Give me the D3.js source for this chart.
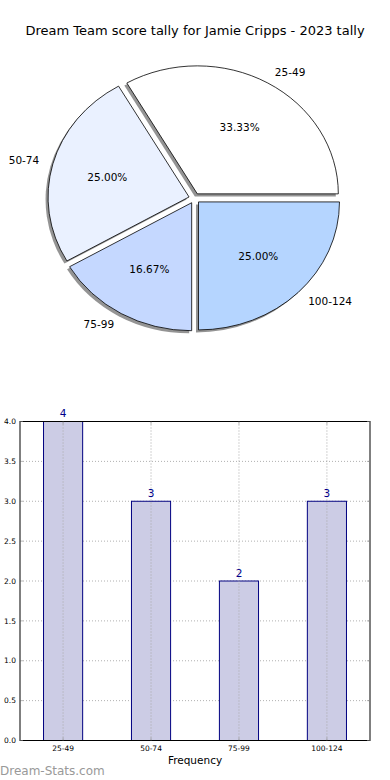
<!DOCTYPE html>
<html><head><meta charset="utf-8">
<script src="https://cdn.jsdelivr.net/npm/d3@7"></script>
<style>body{margin:0;background:#fff}svg{display:block}text{font-family:"DejaVu Sans",sans-serif}</style>
</head><body>
<script>
const title = "Dream Team score tally for Jamie Cripps - 2023 tally";
const categories = ["25-49", "50-74", "75-99", "100-124"];
const counts = [4, 3, 2, 3];
const pieColors = ["#ffffff", "#eaf1ff", "#c5d8ff", "#b5d5ff"];
const yTicks = [0, 0.5, 1, 1.5, 2, 2.5, 3, 3.5, 4];
const xLabel = "Frequency";
const watermark = "Dream-Stats.com";

const W = 390, H = 780;
const svg = d3.select("body").append("svg").attr("width", W).attr("height", H);

svg.append("text").attr("x", 195).attr("y", 35).attr("text-anchor", "middle")
  .attr("font-size", 13).attr("fill", "#000").text(title);

// ---- Pie ----
const cx = 194.5, cy = 198.3, rx = 141, ry = 128, explode = 0.04;
const total = d3.sum(counts);
const pie = d3.pie().sort(null).startAngle(Math.PI / 2).endAngle(Math.PI / 2 - 2 * Math.PI);
const arcs = pie(counts);
const arcGen = d3.arc().innerRadius(0).outerRadius(1);
const pg = svg.append("g");

function off(d, f) {
  const m = (d.startAngle + d.endAngle) / 2;
  return [cx + f * rx * Math.sin(m), cy - f * ry * Math.cos(m)];
}
// shadows
pg.selectAll("path.sh").data(arcs).join("path").attr("class", "sh")
  .attr("d", arcGen)
  .attr("transform", d => { const [x, y] = off(d, explode); return `translate(${x - 2.5},${y + 2.6}) scale(${rx},${ry})`; })
  .attr("fill", "#4d4d4d").attr("opacity", 0.6);
pg.selectAll("path.sl").data(arcs).join("path").attr("class", "sl")
  .attr("d", arcGen)
  .attr("transform", d => { const [x, y] = off(d, explode); return `translate(${x},${y}) scale(${rx},${ry})`; })
  .attr("fill", (d, i) => pieColors[i]).attr("stroke", "#000").attr("stroke-width", 0.8)
  .attr("vector-effect", "non-scaling-stroke");
// labels
arcs.forEach((d, i) => {
  const m = (d.startAngle + d.endAngle) / 2;
  const [ox, oy] = off(d, explode);
  const lx = ox + 1.1 * rx * Math.sin(m), ly = oy - 1.1 * ry * Math.cos(m);
  pg.append("text").attr("x", lx).attr("y", ly).attr("dy", "0.35em")
    .attr("text-anchor", Math.sin(m) > 0 ? "start" : "end")
    .attr("font-size", 10.5).attr("fill", "#000").text(categories[i]);
  const px = ox + 0.6 * rx * Math.sin(m), py = oy - 0.6 * ry * Math.cos(m);
  pg.append("text").attr("x", px).attr("y", py).attr("dy", "0.35em")
    .attr("text-anchor", "middle").attr("font-size", 10.5).attr("fill", "#000")
    .text((counts[i] / total * 100).toFixed(2) + "%");
});

// ---- Bar chart ----
const L = 20, R = 370, T = 421.5, B = 740.5;
const x = d3.scaleLinear().domain([-0.49, 3.49]).range([L, R]);
const y = d3.scaleLinear().domain([0, 4]).range([B, T]);
const bw = 0.445;
const bg = svg.append("g");

const grid = bg.append("g").attr("stroke", "#b0b0b0").attr("stroke-width", 1).attr("stroke-dasharray", "1,2");
grid.selectAll("line.h").data(yTicks).join("line")
  .attr("x1", L).attr("x2", R).attr("y1", d => y(d)).attr("y2", d => y(d));

bg.selectAll("rect").data(counts).join("rect")
  .attr("x", (d, i) => x(i - bw / 2)).attr("width", (d, i) => x(i + bw / 2) - x(i - bw / 2))
  .attr("y", d => y(d)).attr("height", d => B - y(d))
  .attr("fill", "#ccccE5").attr("stroke", "#000080").attr("stroke-width", 1);

const grid2 = bg.append("g").attr("stroke", "#a8a8a8").attr("stroke-width", 1).attr("stroke-dasharray", "1,2");
grid2.selectAll("line.v").data(categories).join("line")
  .attr("x1", (d, i) => x(i)).attr("x2", (d, i) => x(i)).attr("y1", T).attr("y2", B);

bg.append("rect").attr("x", L).attr("y", T).attr("width", R - L).attr("height", B - T)
  .attr("fill", "none").attr("stroke", "#000").attr("stroke-width", 1);

// inner ticks
const tk = bg.append("g").attr("stroke", "#888").attr("stroke-width", 0.6);
yTicks.forEach(t => {
  tk.append("line").attr("x1", L).attr("x2", L + 3).attr("y1", y(t)).attr("y2", y(t));
  tk.append("line").attr("x1", R - 3).attr("x2", R).attr("y1", y(t)).attr("y2", y(t));
});
categories.forEach((c, i) => {
  tk.append("line").attr("x1", x(i)).attr("x2", x(i)).attr("y1", B - 3).attr("y2", B);
  tk.append("line").attr("x1", x(i)).attr("x2", x(i)).attr("y1", T).attr("y2", T + 3);
});

bg.selectAll("text.yt").data(yTicks).join("text").attr("class", "yt")
  .attr("x", L - 4).attr("y", d => y(d)).attr("dy", "0.35em").attr("text-anchor", "end")
  .attr("font-size", 7.5).attr("fill", "#000").text(d => d.toFixed(1));
bg.selectAll("text.xt").data(categories).join("text").attr("class", "xt")
  .attr("x", (d, i) => x(i)).attr("y", B + 10).attr("text-anchor", "middle")
  .attr("font-size", 7.5).attr("fill", "#000").text(d => d);
bg.selectAll("text.bl").data(counts).join("text").attr("class", "bl")
  .attr("x", (d, i) => x(i)).attr("y", d => y(d) - 4.5).attr("text-anchor", "middle")
  .attr("font-size", 10.5).attr("fill", "#00008b").text(d => d);

svg.append("text").attr("x", 195).attr("y", 764).attr("text-anchor", "middle")
  .attr("font-size", 10.5).attr("fill", "#000").text(xLabel);
svg.append("text").attr("x", 0).attr("y", 775).attr("font-size", 12)
  .attr("fill", "#999").text(watermark);
</script>
</body></html>
